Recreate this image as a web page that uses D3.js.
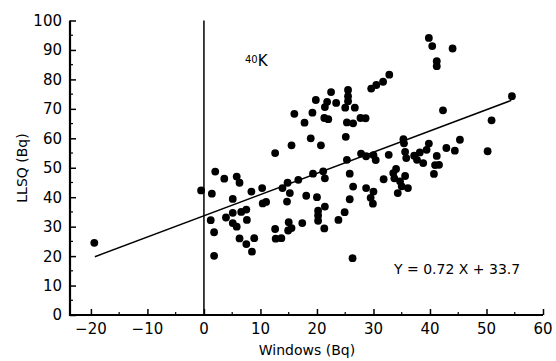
<!DOCTYPE html>
<html>
<head>
<meta charset="utf-8">
<script src="https://cdn.jsdelivr.net/npm/d3@7"></script>
<style>
  body { margin: 0; background: #fff; }
  text { font-family: "DejaVu Sans", sans-serif; fill: #000; }
</style>
</head>
<body>
<div id="main"></div>
<script>
// Windows (Bq) values of each sample
const windowsBq = [
  -19.4, -0.5, 2.0, 3.6, 5.8, 6.3, 1.4, 5.1, 8.4, 10.3, 10.4, 11.0, 13.9, 14.8, 15.2, 14.7, 16.7,
  1.2, 3.9, 5.1, 6.6, 7.5, 7.6, 5.1, 5.8, 1.8, 6.3, 7.5, 8.9, 8.5, 1.8, 12.6, 12.7, 13.7, 15.0,
  15.5, 14.9, 17.4, 18.1, 19.3, 21.1, 21.4, 20.0, 21.4, 20.2, 20.2, 20.2, 21.3, 23.8, 24.9, 25.8,
  25.8, 26.4, 28.7, 30.0, 29.5, 29.9, 26.3, 12.6, 15.5, 18.9, 20.7, 16.0, 17.8, 19.2, 19.8, 21.4,
  21.8, 22.5, 23.4, 21.3, 22.0, 25.5, 25.5, 25.5, 25.0, 26.7, 25.3, 26.4, 27.7, 28.6, 25.1, 29.6,
  30.5, 31.7, 32.8, 25.3, 27.8, 28.7, 30.0, 30.4, 32.7, 35.6, 35.8, 37.2, 37.7, 35.3, 35.4, 39.8,
  39.4, 38.2, 42.9, 44.4, 45.3, 50.2, 41.2, 38.8, 40.9, 41.6, 40.7, 34.0, 33.5, 35.6, 31.8, 34.7,
  35.0, 33.7, 36.1, 34.3, 39.8, 40.4, 44.0, 41.2, 41.2, 54.5, 42.3, 50.9
];
// LLSQ (Bq) values of the same samples
const llsqBq = [
  24.5, 42.3, 48.7, 46.3, 47.0, 44.9, 41.2, 39.4, 41.9, 43.1, 37.9, 38.4, 43.1, 44.9, 41.4, 38.5, 45.9,
  32.2, 33.1, 34.7, 35.0, 35.8, 32.3, 31.2, 30.0, 28.1, 26.0, 24.1, 26.1, 21.5, 20.1, 29.2, 25.9, 26.1, 31.5,
  29.5, 28.7, 31.2, 40.5, 48.0, 48.8, 46.4, 40.0, 36.8, 35.4, 33.8, 32.0, 29.4, 32.3, 34.9, 39.3,
  48.0, 43.6, 43.1, 41.9, 39.8, 37.8, 19.3, 55.0, 57.6, 60.0, 57.6, 68.3, 65.3, 68.7, 73.0, 70.6,
  72.4, 75.7, 72.0, 66.9, 66.5, 76.4, 74.3, 72.6, 70.4, 70.4, 65.4, 65.1, 66.9, 66.8, 60.5, 76.9,
  78.1, 79.2, 81.6, 52.7, 54.8, 53.9, 54.3, 52.6, 54.4, 55.4, 53.3, 54.1, 52.7, 59.7, 58.3, 58.2,
  56.1, 55.2, 56.7, 55.8, 59.5, 55.6, 54.0, 51.6, 50.9, 51.0, 47.9, 49.6, 48.2, 47.2, 46.1, 45.4,
  43.7, 46.4, 43.1, 41.4, 94.1, 91.3, 90.5, 86.2, 84.5, 74.3, 69.5, 66.1
];

// fitted line Y = 0.72 X + 33.7, drawn over this X range
const slope = 0.72;
const intercept = 33.7;
const fitRange = [-19.3, 54.4];

const xTicks = [-20, -10, 0, 10, 20, 30, 40, 50, 60];
const yTicks = [0, 10, 20, 30, 40, 50, 60, 70, 80, 90, 100];

const width = 556;
const height = 361;

const svg = d3.select('#main').append('svg')
    .attr('width', width)
    .attr('height', height);

const x = d3.scaleLinear().domain([-23.7, 60]).range([70, 543]);
const y = d3.scaleLinear().domain([0, 100]).range([315, 20.5]);

// minor ticks every 5
const xMinor = d3.range(-20, 61, 5).filter(v => xTicks.indexOf(v) < 0);
const yMinor = d3.range(5, 100, 5).filter(v => yTicks.indexOf(v) < 0);

const xAxis = svg.append('g')
    .attr('transform', `translate(0, ${y(0)})`)
    .call(d3.axisTop(x).tickValues(xTicks).tickSize(6).tickFormat(''));
xAxis.select('.domain').remove();
xAxis.selectAll('line').attr('stroke', '#000').attr('stroke-width', 1.5);

svg.append('g')
    .attr('transform', `translate(0, ${y(0)})`)
    .selectAll('line')
    .data(xMinor)
    .enter()
    .append('line')
    .attr('x1', d => x(d)).attr('x2', d => x(d))
    .attr('y1', 0).attr('y2', -3)
    .attr('stroke', '#000').attr('stroke-width', 1.2);

svg.append('g')
    .selectAll('text')
    .data(xTicks)
    .enter()
    .append('text')
    .attr('x', d => x(d))
    .attr('y', y(0) + 19)
    .attr('text-anchor', 'middle')
    .attr('font-size', 15)
    .text(d => d3.format('d')(d));

const yAxis = svg.append('g')
    .attr('transform', `translate(${x.range()[0]}, 0)`)
    .call(d3.axisRight(y).tickValues(yTicks).tickSize(6).tickFormat(''));
yAxis.select('.domain').remove();
yAxis.selectAll('line').attr('stroke', '#000').attr('stroke-width', 1.5);

svg.append('g')
    .attr('transform', `translate(${x.range()[0]}, 0)`)
    .selectAll('line')
    .data(yMinor)
    .enter()
    .append('line')
    .attr('x1', 0).attr('x2', 3)
    .attr('y1', d => y(d)).attr('y2', d => y(d))
    .attr('stroke', '#000').attr('stroke-width', 1.2);

svg.append('g')
    .selectAll('text')
    .data(yTicks)
    .enter()
    .append('text')
    .attr('x', x.range()[0] - 8)
    .attr('y', d => y(d))
    .attr('dy', '0.36em')
    .attr('text-anchor', 'end')
    .attr('font-size', 15)
    .text(d => d);

// axis lines
svg.append('path')
    .attr('d', `M${x.range()[0]},${y(100)}V${y(0)}H${x(60)}`)
    .attr('fill', 'none')
    .attr('stroke', '#000')
    .attr('stroke-width', 2.2);

// zero line
svg.append('line')
    .attr('x1', x(0)).attr('x2', x(0))
    .attr('y1', y(0)).attr('y2', y(100))
    .attr('stroke', '#000')
    .attr('stroke-width', 1.5);

// regression line
svg.append('line')
    .attr('x1', x(fitRange[0])).attr('y1', y(slope * fitRange[0] + intercept))
    .attr('x2', x(fitRange[1])).attr('y2', y(slope * fitRange[1] + intercept))
    .attr('stroke', '#000')
    .attr('stroke-width', 1.5);

svg.append('g')
    .selectAll('circle')
    .data(windowsBq)
    .enter()
    .append('circle')
    .attr('cx', d => x(d))
    .attr('cy', (d, i) => y(llsqBq[i]))
    .attr('r', 3.9)
    .attr('fill', '#000');

// labels
svg.append('text')
    .attr('x', 307)
    .attr('y', 355)
    .attr('text-anchor', 'middle')
    .attr('font-size', 14)
    .text('Windows (Bq)');

svg.append('text')
    .attr('transform', 'translate(27, 168) rotate(-90)')
    .attr('text-anchor', 'middle')
    .attr('font-size', 14)
    .text('LLSQ (Bq)');

const iso = svg.append('text')
    .attr('x', 245)
    .attr('y', 66)
    .attr('font-size', 15);
iso.append('tspan').attr('font-size', 10).attr('dy', -3).text('40');
iso.append('tspan').attr('dy', 3).text('K');

svg.append('text')
    .attr('x', 394)
    .attr('y', 274)
    .attr('font-size', 14)
    .text('Y = 0.72 X + 33.7');
</script>
</body>
</html>
